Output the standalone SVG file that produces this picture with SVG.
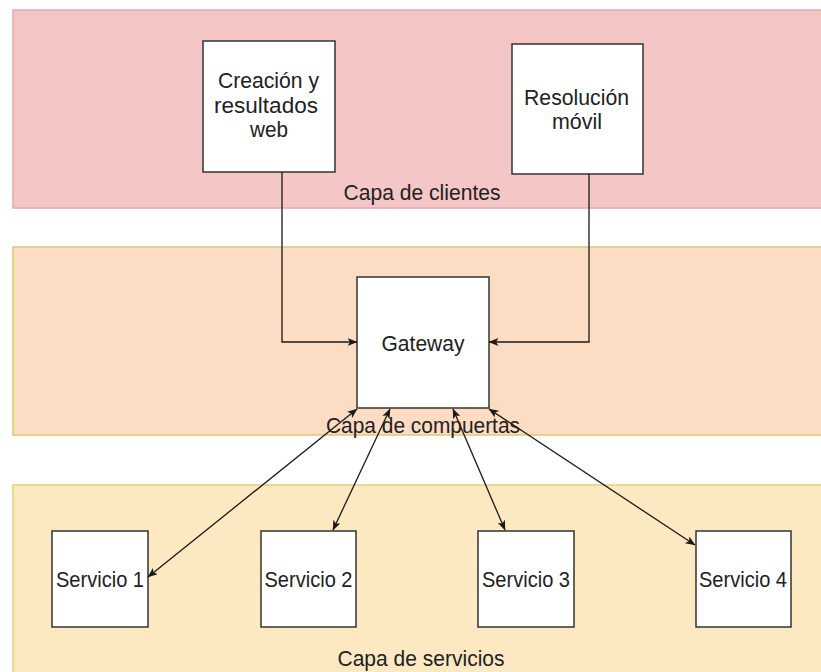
<svg xmlns="http://www.w3.org/2000/svg" width="821" height="672" viewBox="0 0 821 672">
<defs>
<marker id="arr" viewBox="0 0 10 8" refX="9.5" refY="4" markerWidth="10" markerHeight="8" markerUnits="userSpaceOnUse" orient="auto-start-reverse">
<path d="M0,0 L10,4 L0,8 L2.5,4 z" fill="#1a1a1a"/>
</marker>
<style>
.band-c{fill:#f5c6c6;stroke:#e3a9a9;stroke-width:1.5}
.band-g{fill:#fcdcc3;stroke:#dccb72;stroke-width:1.5}
.band-s{fill:#fce9c2;stroke:#e2d27a;stroke-width:1.5}
.box{fill:#ffffff;stroke:#333333;stroke-width:1.5}
.t{font-family:"Liberation Sans",Arial,sans-serif;font-size:22px;fill:#222222;text-anchor:middle}
.c{fill:none;stroke:#1a1a1a;stroke-width:1.3}
</style>
</defs>
<g id="layer-clientes">
<rect class="band-c" x="13" y="10" width="812" height="198"/>
<text class="t" x="422" y="200" textLength="157" lengthAdjust="spacingAndGlyphs">Capa de clientes</text>
</g>
<g id="layer-compuertas">
<rect class="band-g" x="13" y="247" width="812" height="188"/>
</g>
<g id="layer-servicios">
<rect class="band-s" x="13" y="485" width="812" height="192"/>
<text class="t" x="421" y="666" textLength="167" lengthAdjust="spacingAndGlyphs">Capa de servicios</text>
</g>
<g id="node-web">
<rect class="box" x="203" y="41" width="132" height="131"/>
<text class="t" x="268.5" y="88" textLength="101" lengthAdjust="spacingAndGlyphs">Creación y</text>
<text class="t" x="266" y="113" textLength="104" lengthAdjust="spacingAndGlyphs">resultados</text>
<text class="t" x="269" y="137" textLength="38" lengthAdjust="spacingAndGlyphs">web</text>
</g>
<g id="node-movil">
<rect class="box" x="512" y="44" width="131" height="130"/>
<text class="t" x="576.5" y="105" textLength="105" lengthAdjust="spacingAndGlyphs">Resolución</text>
<text class="t" x="577" y="129" textLength="50" lengthAdjust="spacingAndGlyphs">móvil</text>
</g>
<g id="node-gateway">
<rect class="box" x="357" y="277" width="132" height="131"/>
<text class="t" x="423" y="351" textLength="83" lengthAdjust="spacingAndGlyphs">Gateway</text>
</g>
<g id="node-s1">
<rect class="box" x="52" y="531" width="96" height="96"/>
<text class="t" x="100" y="587" textLength="88" lengthAdjust="spacingAndGlyphs">Servicio 1</text>
</g>
<g id="node-s2">
<rect class="box" x="261" y="531" width="95" height="96"/>
<text class="t" x="308.5" y="587" textLength="88" lengthAdjust="spacingAndGlyphs">Servicio 2</text>
</g>
<g id="node-s3">
<rect class="box" x="478" y="531" width="96" height="96"/>
<text class="t" x="526" y="587" textLength="88" lengthAdjust="spacingAndGlyphs">Servicio 3</text>
</g>
<g id="node-s4">
<rect class="box" x="696" y="531" width="95" height="96"/>
<text class="t" x="743" y="587" textLength="88" lengthAdjust="spacingAndGlyphs">Servicio 4</text>
</g>
<g id="connectors">
<path class="c" d="M282,172 L282,342 L357,342" marker-end="url(#arr)"/>
<path class="c" d="M589,174 L589,342 L489,342" marker-end="url(#arr)"/>
<path class="c" d="M357,409 L148,577" marker-start="url(#arr)" marker-end="url(#arr)"/>
<path class="c" d="M390,409 L333,530" marker-start="url(#arr)" marker-end="url(#arr)"/>
<path class="c" d="M453,409 L505,530" marker-start="url(#arr)" marker-end="url(#arr)"/>
<path class="c" d="M489,409 L695,545" marker-start="url(#arr)" marker-end="url(#arr)"/>
</g>
<g id="label-compuertas">
<text class="t" x="423" y="433" textLength="194" lengthAdjust="spacingAndGlyphs">Capa de compuertas</text>
</g>
</svg>
